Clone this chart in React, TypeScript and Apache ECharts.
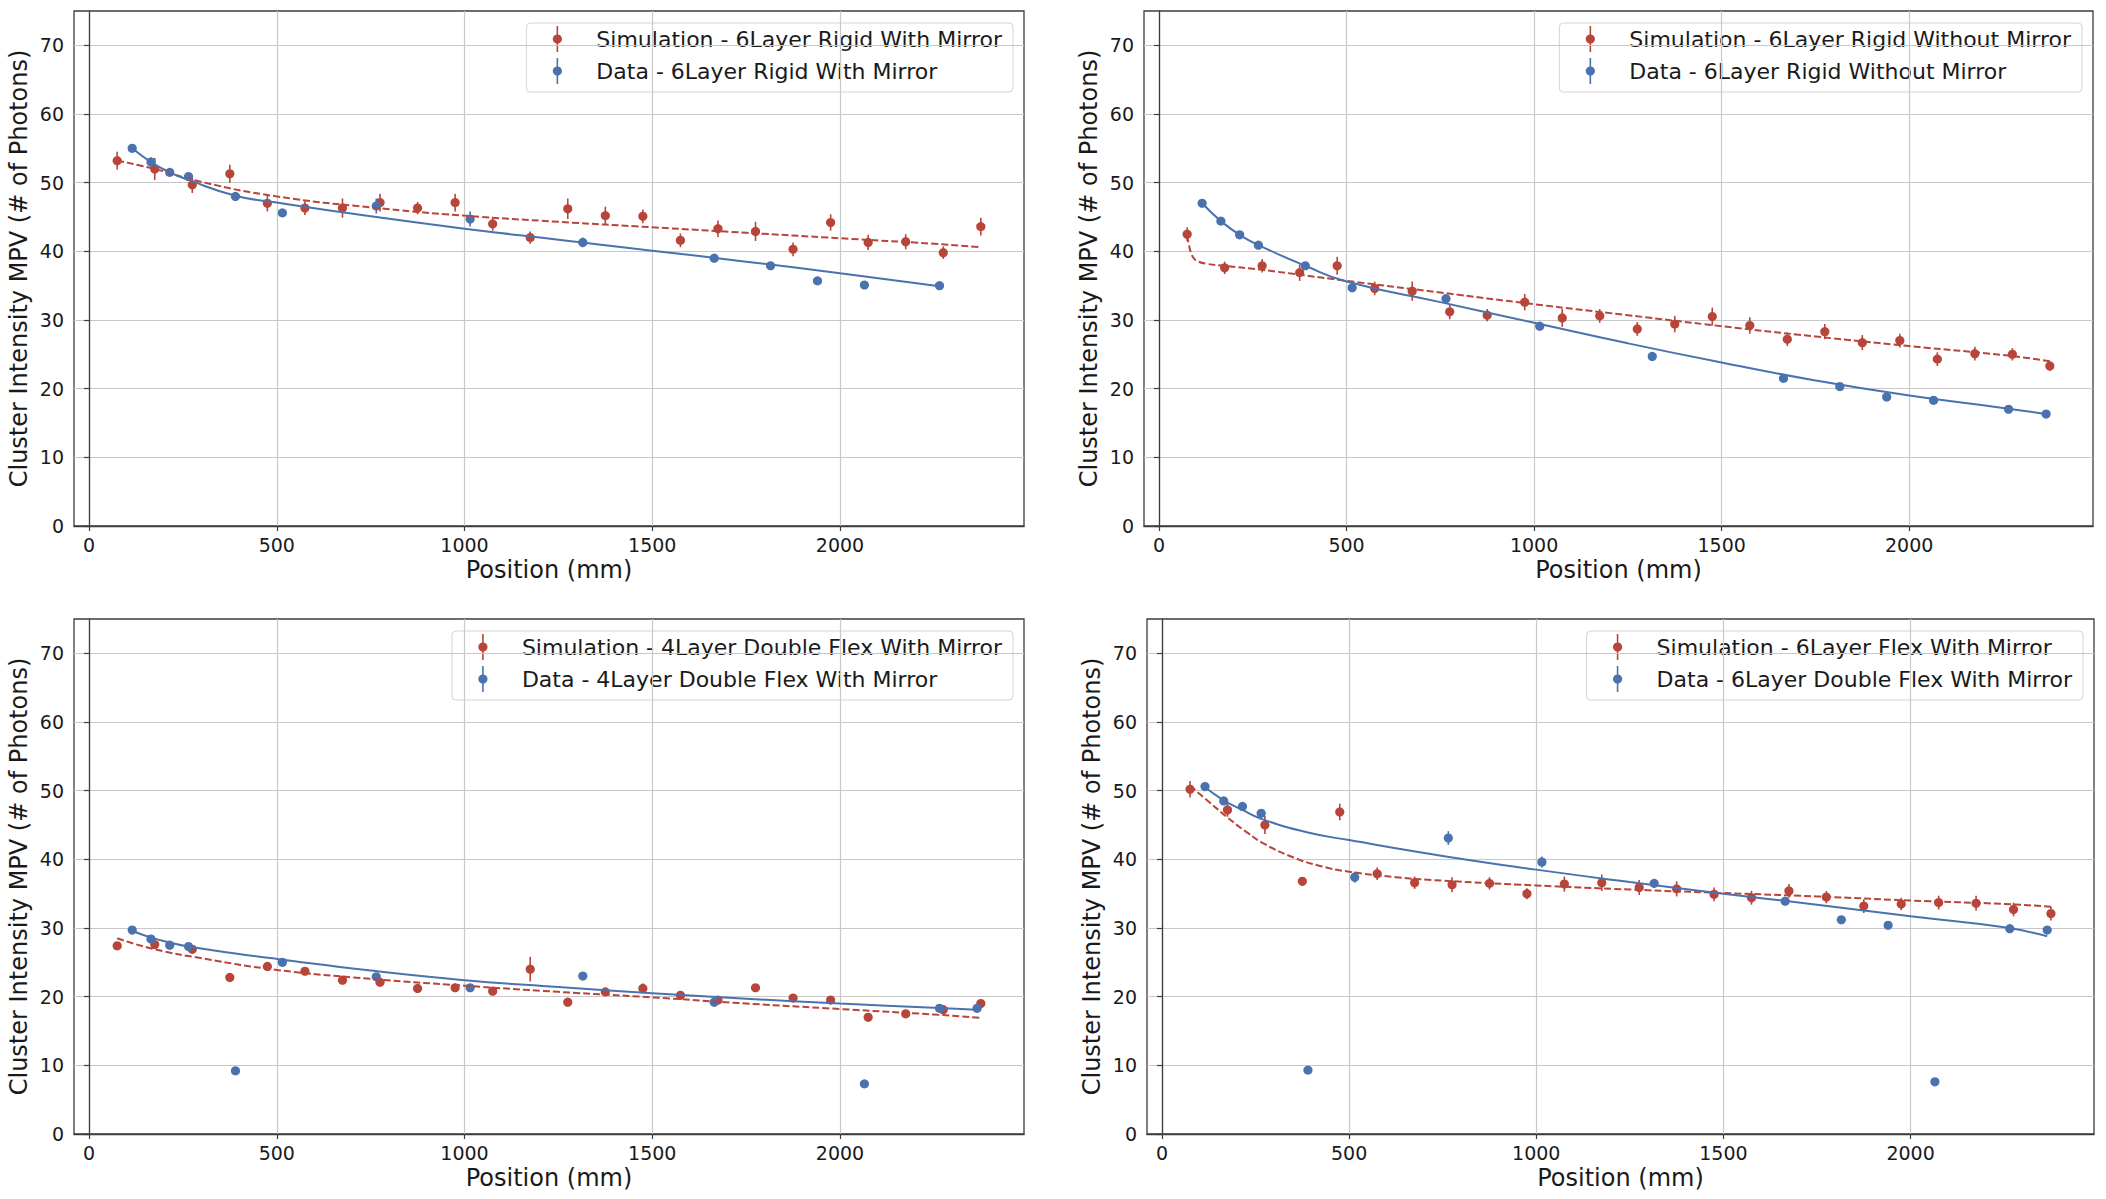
import React, { useEffect, useRef } from 'react';
import * as echarts from 'echarts';

// ---- shared axes ----
const xTicks = [0, 500, 1000, 1500, 2000];
const yTicks = [0, 10, 20, 30, 40, 50, 60, 70];

// simulated positions along the fibre (mm), same in every panel
const simPositions = [75, 175, 275, 375, 475, 575, 675, 775, 875, 975, 1075, 1175, 1275, 1375, 1475, 1575, 1675, 1775, 1875, 1975, 2075, 2175, 2275, 2375];

// ---- 6Layer Rigid With Mirror ----
const rwmSimLabel = 'Simulation - 6Layer Rigid With Mirror';
const rwmDataLabel = 'Data - 6Layer Rigid With Mirror';
const rwmSimY = [53.2, 52.0, 49.7, 51.3, 47.0, 46.3, 46.3, 47.1, 46.3, 47.1, 44.0, 42.0, 46.2, 45.2, 45.1, 41.6, 43.3, 42.9, 40.3, 44.2, 41.3, 41.4, 39.8, 43.6];
const rwmSimErr = [1.3, 1.6, 1.2, 1.3, 1.2, 1.0, 1.4, 1.3, 0.9, 1.3, 1.0, 0.9, 1.5, 1.3, 1.0, 1.0, 1.2, 1.4, 1.0, 1.2, 1.1, 1.1, 0.9, 1.3];
const rwmDataX = [115, 165, 215, 265, 390, 515, 765, 1015, 1315, 1665, 1815, 1940, 2065, 2265];
const rwmDataY = [55.0, 53.0, 51.5, 50.9, 48.0, 45.6, 46.6, 44.7, 41.3, 39.0, 37.9, 35.7, 35.1, 35.0];
const rwmDataErr = [0.5, 0.7, 0.4, 0.5, 0.4, 0.5, 1.1, 1.1, 0.7, 0.5, 0.5, 0.4, 0.4, 0.5];
const rwmSimFitX = [75, 175, 300, 500, 750, 1000, 1250, 1500, 1750, 2000, 2250, 2375];
const rwmSimFitY = [53.2, 52.0, 50.1, 48.0, 46.4, 45.2, 44.3, 43.5, 42.7, 41.9, 41.1, 40.6];
const rwmDataFitX = [115, 165, 215, 265, 390, 500, 750, 1000, 1250, 1500, 1750, 2000, 2265];
const rwmDataFitY = [55.0, 53.0, 51.5, 50.4, 48.1, 47.1, 45.1, 43.3, 41.7, 40.1, 38.5, 36.8, 34.9];

// ---- 6Layer Rigid Without Mirror ----
const rnmSimLabel = 'Simulation - 6Layer Rigid Without Mirror';
const rnmDataLabel = 'Data - 6Layer Rigid Without Mirror';
const rnmSimY = [42.5, 37.6, 37.9, 36.9, 37.9, 34.6, 34.2, 31.2, 30.7, 32.6, 30.3, 30.6, 28.7, 29.4, 30.5, 29.2, 27.2, 28.3, 26.7, 27.0, 24.3, 25.1, 25.0, 23.3];
const rnmSimErr = [1.0, 0.9, 1.0, 1.2, 1.3, 1.0, 1.4, 1.1, 0.9, 1.2, 1.3, 1.0, 1.0, 1.2, 1.3, 1.2, 1.0, 1.1, 1.1, 1.0, 1.0, 1.0, 0.9, 0.7];
const rnmDataX = [115, 165, 215, 265, 390, 515, 765, 1015, 1315, 1665, 1815, 1940, 2065, 2265, 2365];
const rnmDataY = [47.0, 44.4, 42.4, 40.9, 37.9, 34.7, 33.1, 29.1, 24.7, 21.5, 20.3, 18.8, 18.3, 17.0, 16.3];
const rnmDataErr = [0.5, 0.5, 0.5, 0.5, 0.5, 0.6, 0.5, 0.6, 0.4, 0.4, 0.4, 0.6, 0.5, 0.4, 0.5];
const rnmSimFitX = [75, 80, 86, 94, 105, 125, 175, 275, 500, 750, 1000, 1250, 1500, 1750, 2000, 2250, 2375];
const rnmSimFitY = [42.3, 40.9, 39.7, 38.9, 38.5, 38.2, 37.9, 37.3, 35.7, 34.0, 32.3, 30.7, 29.1, 27.6, 26.2, 24.9, 24.0];
const rnmDataFitX = [115, 165, 215, 265, 390, 500, 750, 1000, 1250, 1500, 1750, 2000, 2250, 2365];
const rnmDataFitY = [47.0, 44.4, 42.4, 40.9, 37.9, 35.6, 32.6, 29.6, 26.6, 23.8, 21.2, 19.0, 17.2, 16.3];

// ---- 4Layer Double Flex With Mirror ----
const dfSimLabel = 'Simulation - 4Layer Double Flex With Mirror';
const dfDataLabel = 'Data - 4Layer Double Flex With Mirror';
const dfSimY = [27.4, 27.6, 26.9, 22.8, 24.4, 23.7, 22.4, 22.1, 21.2, 21.3, 20.8, 24.0, 19.2, 20.7, 21.2, 20.2, 19.5, 21.3, 19.8, 19.5, 17.0, 17.5, 18.1, 19.0];
const dfSimErr = [0.5, 0.6, 0.6, 0.5, 0.6, 0.5, 0.5, 0.6, 0.6, 0.6, 0.5, 1.8, 0.6, 0.6, 0.7, 0.5, 0.5, 0.5, 0.5, 0.5, 0.6, 0.5, 0.6, 0.6];
const dfDataX = [115, 165, 215, 265, 390, 515, 765, 1015, 1315, 1665, 2065, 2265, 2365];
const dfDataY = [29.7, 28.4, 27.5, 27.3, 9.2, 25.0, 22.9, 21.3, 23.0, 19.2, 7.3, 18.3, 18.3];
const dfDataErr = [0.5, 0.5, 0.4, 0.5, 0.4, 0.4, 0.5, 0.4, 0.4, 0.4, 0.4, 0.4, 0.5];
const dfSimFitX = [75, 175, 300, 500, 750, 1000, 1250, 1500, 1750, 2000, 2250, 2375];
const dfSimFitY = [28.5, 26.9, 25.6, 23.9, 22.6, 21.6, 20.7, 19.9, 19.0, 18.2, 17.4, 16.9];
const dfDataFitX = [115, 165, 215, 265, 390, 500, 750, 1000, 1250, 1500, 1750, 2000, 2250, 2365];
const dfDataFitY = [29.6, 28.6, 27.9, 27.3, 26.3, 25.5, 23.8, 22.4, 21.4, 20.5, 19.7, 19.0, 18.4, 18.1];

// ---- 6Layer Flex With Mirror ----
const fxSimLabel = 'Simulation - 6Layer Flex With Mirror';
const fxDataLabel = 'Data - 6Layer Double Flex With Mirror';
const fxSimY = [50.2, 47.2, 45.0, 36.8, 46.9, 37.9, 36.6, 36.3, 36.5, 35.0, 36.4, 36.6, 35.9, 35.7, 34.9, 34.4, 35.4, 34.5, 33.2, 33.5, 33.7, 33.6, 32.7, 32.1];
const fxSimErr = [1.2, 1.0, 1.3, 0.6, 1.2, 0.9, 0.9, 1.1, 0.9, 0.8, 1.1, 1.2, 1.1, 1.1, 1.0, 1.0, 1.0, 0.9, 1.0, 0.9, 1.0, 1.1, 1.0, 1.0];
const fxDataX = [115, 165, 215, 265, 390, 515, 765, 1015, 1315, 1665, 1815, 1940, 2065, 2265, 2365];
const fxDataY = [50.6, 48.5, 47.7, 46.7, 9.3, 37.4, 43.1, 39.6, 36.5, 33.9, 31.2, 30.4, 7.6, 29.9, 29.7];
const fxDataErr = [0.5, 0.5, 0.4, 0.5, 0.4, 0.8, 1.0, 0.8, 0.6, 0.5, 0.5, 0.4, 0.4, 0.4, 0.5];
const fxSimFitX = [75, 125, 175, 225, 275, 350, 425, 500, 625, 750, 1000, 1250, 1500, 1750, 2000, 2250, 2375];
const fxSimFitY = [50.7, 48.4, 46.1, 44.0, 42.2, 40.3, 39.0, 38.2, 37.4, 36.9, 36.2, 35.6, 35.1, 34.6, 34.0, 33.5, 33.1];
const fxDataFitX = [115, 165, 215, 265, 390, 500, 750, 1000, 1250, 1500, 1750, 2000, 2250, 2365];
const fxDataFitY = [50.5, 48.6, 47.2, 45.9, 43.9, 42.8, 40.5, 38.5, 36.7, 35.0, 33.4, 31.7, 30.1, 28.8];

// ---- styling ----
const FONT = '"DejaVu Sans", sans-serif';
const RED = '#b8453a';
const BLUE = '#4a72ae';
const INK = '#1a1a1a';
const SPINE = '#3c3c3c';
const GRIDLINE = '#c8c8c8';
const X_NAME = 'Position (mm)';
const Y_NAME = 'Cluster Intensity MPV (# of Photons)';

type Panel = {
  rect: { left: number; top: number; width: number; height: number };
  simLabel: string; dataLabel: string;
  simX: number[]; simY: number[]; simErr: number[];
  dataX: number[]; dataY: number[]; dataErr: number[];
  simFitX: number[]; simFitY: number[];
  dataFitX: number[]; dataFitY: number[];
};

const panels: Panel[] = [
  {
    rect: { left: 74, top: 11, width: 950, height: 515 },
    simLabel: rwmSimLabel, dataLabel: rwmDataLabel,
    simX: simPositions, simY: rwmSimY, simErr: rwmSimErr,
    dataX: rwmDataX, dataY: rwmDataY, dataErr: rwmDataErr,
    simFitX: rwmSimFitX, simFitY: rwmSimFitY, dataFitX: rwmDataFitX, dataFitY: rwmDataFitY,
  },
  {
    rect: { left: 1144, top: 11, width: 949, height: 515 },
    simLabel: rnmSimLabel, dataLabel: rnmDataLabel,
    simX: simPositions, simY: rnmSimY, simErr: rnmSimErr,
    dataX: rnmDataX, dataY: rnmDataY, dataErr: rnmDataErr,
    simFitX: rnmSimFitX, simFitY: rnmSimFitY, dataFitX: rnmDataFitX, dataFitY: rnmDataFitY,
  },
  {
    rect: { left: 74, top: 619, width: 950, height: 515 },
    simLabel: dfSimLabel, dataLabel: dfDataLabel,
    simX: simPositions, simY: dfSimY, simErr: dfSimErr,
    dataX: dfDataX, dataY: dfDataY, dataErr: dfDataErr,
    simFitX: dfSimFitX, simFitY: dfSimFitY, dataFitX: dfDataFitX, dataFitY: dfDataFitY,
  },
  {
    rect: { left: 1147, top: 619, width: 947, height: 515 },
    simLabel: fxSimLabel, dataLabel: fxDataLabel,
    simX: simPositions, simY: fxSimY, simErr: fxSimErr,
    dataX: fxDataX, dataY: fxDataY, dataErr: fxDataErr,
    simFitX: fxSimFitX, simFitY: fxSimFitY, dataFitX: fxDataFitX, dataFitY: fxDataFitY,
  },
];

const zip3 = (a: number[], b: number[], c: number[]) => a.map((v, i) => [v, b[i], c[i]]);
const zip2 = (a: number[], b: number[]) => a.map((v, i) => [v, b[i]]);

function measure(text: string, font: string): number {
  const ctx = document.createElement('canvas').getContext('2d');
  if (!ctx) return text.length * 11;
  ctx.font = font;
  return ctx.measureText(text).width;
}

// point with a vertical error bar
function errorBarSeries(idx: number, rows: number[][], color: string) {
  return {
    type: 'custom',
    xAxisIndex: idx,
    yAxisIndex: idx,
    silent: true,
    z: 3,
    dimensions: ['x', 'y', 'err'],
    encode: { x: 0, y: 1 },
    data: rows,
    renderItem: (_params: any, api: any) => {
      const x = api.value(0);
      const y = api.value(1);
      const e = api.value(2);
      const hi = api.coord([x, y + e]);
      const lo = api.coord([x, y - e]);
      const c = api.coord([x, y]);
      return {
        type: 'group',
        children: [
          { type: 'line', shape: { x1: hi[0], y1: hi[1], x2: lo[0], y2: lo[1] }, style: { stroke: color, lineWidth: 1.6 } },
          { type: 'circle', shape: { cx: c[0], cy: c[1], r: 4.6 }, style: { fill: color } },
        ],
      };
    },
  };
}

function fitSeries(idx: number, pts: number[][], color: string, dashed: boolean) {
  return {
    type: 'line',
    xAxisIndex: idx,
    yAxisIndex: idx,
    silent: true,
    z: 4,
    data: pts,
    showSymbol: false,
    smooth: 0.5,
    lineStyle: { color, width: 2, type: dashed ? [7, 3] : 'solid' },
  };
}

function legendGraphic(p: Panel) {
  const font = `22px ${FONT}`;
  const tw = Math.max(measure(p.simLabel, font), measure(p.dataLabel, font));
  const w = 70 + tw + 11;
  const h = 69;
  const right = p.rect.left + p.rect.width - 11;
  const left = right - w;
  const top = p.rect.top + 12;
  const rows = [
    { label: p.simLabel, color: RED, cy: top + 16 },
    { label: p.dataLabel, color: BLUE, cy: top + 48 },
  ];
  const children: any[] = [
    {
      type: 'rect',
      shape: { x: left, y: top, width: w, height: h, r: 4 },
      style: { fill: 'rgba(255,255,255,0.8)', stroke: '#d4d4d4', lineWidth: 1 },
    },
  ];
  rows.forEach((r) => {
    const mx = left + 31;
    children.push(
      { type: 'line', shape: { x1: mx, y1: r.cy - 13, x2: mx, y2: r.cy + 13 }, style: { stroke: r.color, lineWidth: 1.6 } },
      { type: 'circle', shape: { cx: mx, cy: r.cy, r: 4.6 }, style: { fill: r.color } },
      {
        type: 'text',
        style: { text: r.label, x: left + 70, y: r.cy, font, fill: INK, verticalAlign: 'middle', align: 'left' },
      },
    );
  });
  return { type: 'group', z: 100, children };
}

function buildOption() {
  const grid = panels.map((p) => ({
    ...p.rect,
    show: true,
    borderColor: SPINE,
    borderWidth: 1.3,
    backgroundColor: 'transparent',
  }));
  const xAxis = panels.map((_p, i) => ({
    gridIndex: i,
    type: 'value',
    min: -40,
    max: 2490,
    name: X_NAME,
    nameLocation: 'middle',
    nameGap: 32,
    nameTextStyle: { fontSize: 24, fontFamily: FONT, color: INK },
    axisLine: { show: true, lineStyle: { color: SPINE, width: 1.3 } },
    axisTick: { show: true, inside: false, length: 5, customValues: xTicks, lineStyle: { color: SPINE, width: 1.2 } },
    axisLabel: {
      customValues: xTicks,
      formatter: (v: number) => String(v),
      fontSize: 19,
      fontFamily: FONT,
      color: INK,
      margin: 9,
    },
    splitLine: { show: true, lineStyle: { color: GRIDLINE, width: 1.2 } },
  }));
  const yAxis = panels.map((_p, i) => ({
    gridIndex: i,
    type: 'value',
    min: 0,
    max: 75,
    interval: 10,
    name: Y_NAME,
    nameLocation: 'middle',
    nameGap: 43,
    nameTextStyle: { fontSize: 24, fontFamily: FONT, color: INK },
    axisLine: { show: true, lineStyle: { color: SPINE, width: 1.3 } },
    axisTick: { show: true, inside: false, length: 5, customValues: yTicks, lineStyle: { color: SPINE, width: 1.2 } },
    axisLabel: {
      customValues: yTicks,
      formatter: (v: number) => String(v),
      fontSize: 19,
      fontFamily: FONT,
      color: INK,
      margin: 10,
    },
    splitLine: { show: true, lineStyle: { color: GRIDLINE, width: 1.2 } },
  }));
  const series: any[] = [];
  panels.forEach((p, i) => {
    series.push(errorBarSeries(i, zip3(p.simX, p.simY, p.simErr), RED));
    series.push(errorBarSeries(i, zip3(p.dataX, p.dataY, p.dataErr), BLUE));
    series.push(fitSeries(i, zip2(p.simFitX, p.simFitY), RED, true));
    series.push(fitSeries(i, zip2(p.dataFitX, p.dataFitY), BLUE, false));
  });
  return {
    animation: false,
    backgroundColor: '#ffffff',
    textStyle: { fontFamily: FONT },
    grid,
    xAxis,
    yAxis,
    series,
    graphic: panels.map(legendGraphic),
  };
}

export default function App() {
  const ref = useRef<HTMLDivElement>(null);
  useEffect(() => {
    if (!ref.current) return;
    const chart = echarts.init(ref.current, undefined, { renderer: 'svg' });
    chart.setOption(buildOption() as any);
    return () => chart.dispose();
  }, []);
  return (
    <div
      ref={ref}
      style={{ position: 'absolute', left: 0, top: 0, width: 2106, height: 1199, background: '#ffffff' }}
    />
  );
}
